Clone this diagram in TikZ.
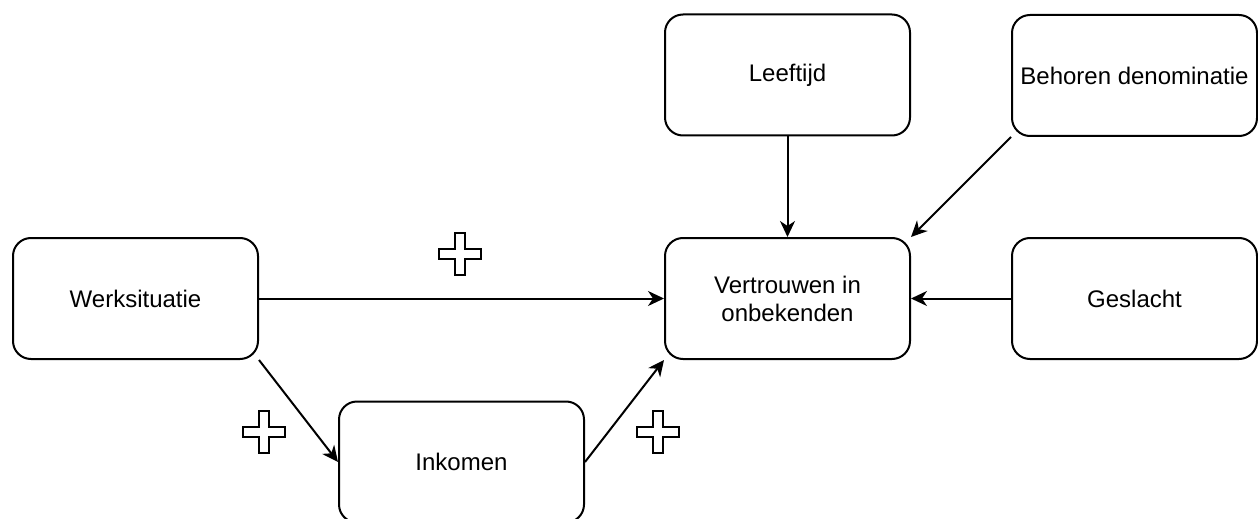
\documentclass[tikz,border=0pt]{standalone}
\usepackage{fontspec}
\setmainfont{Liberation Sans}
\usetikzlibrary{arrows.meta}
\tikzset{
  box/.style={draw=black, line width=1pt, rounded corners=9pt, minimum width=122.5pt, minimum height=60.5pt, inner sep=0pt, align=center, font=\fontsize{12}{14}\selectfont},
  conn/.style={line width=1pt, -{Stealth[length=8pt, width=7.5pt, inset=2.5pt]}},
  plus/.style={draw=black, line width=1pt, fill=white}
}
\newcommand{\plussign}[2]{%
  \draw[plus] (#1-5,#2-21) -- (#1+5,#2-21) -- (#1+5,#2-5) -- (#1+21,#2-5) -- (#1+21,#2+5) -- (#1+5,#2+5) -- (#1+5,#2+21) -- (#1-5,#2+21) -- (#1-5,#2+5) -- (#1-21,#2+5) -- (#1-21,#2-5) -- (#1-5,#2-5) -- cycle;}
\begin{document}
\begin{tikzpicture}[x=0.5pt,y=-0.5pt]
\useasboundingbox (0,0) rectangle (1258,519);
\clip (0,0) rectangle (1258,519);
\node[box] (werk) at (135.5,298.5) {Werksituatie};
\node[box] (ink) at (461.5,462) {Inkomen};
\node[box] (vert) at (787.5,298.5) {Vertrouwen in\\onbekenden};
\node[box] (leef) at (787.5,75) {Leeftijd};
\node[box] (beh) at (1134.5,75.5) {Behoren denominatie};
\node[box] (ges) at (1134.5,298.5) {Geslacht};
\draw[conn] (werk) -- (vert);
\draw[conn] (leef) -- (vert);
\draw[conn] (beh.south west) -- (vert.north east);
\draw[conn] (ges) -- (vert);
\draw[conn] (werk.south east) -- (ink.west);
\draw[conn] (ink.east) -- (vert.south west);
\plussign{460}{254}
\plussign{264}{432}
\plussign{658}{432}
\end{tikzpicture}
\end{document}
